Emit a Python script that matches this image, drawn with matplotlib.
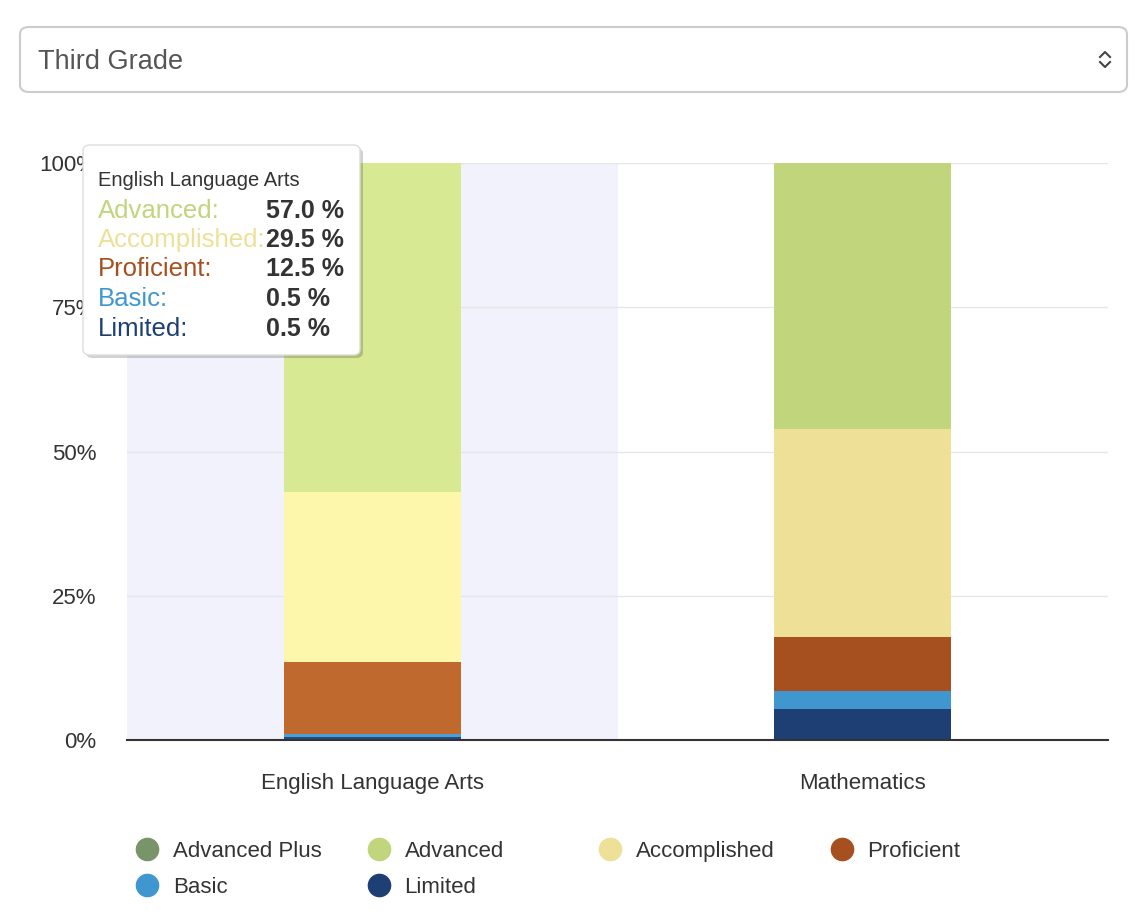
import matplotlib
matplotlib.use("Agg")
import matplotlib.pyplot as plt
from matplotlib.patches import FancyBboxPatch
from matplotlib.lines import Line2D

plt.rcParams['font.family'] = ['Liberation Sans', 'DejaVu Sans']

subjects = ["English Language Arts", "Mathematics"]
levels = ["Limited", "Basic", "Proficient", "Accomplished", "Advanced"]
ela = [0.5, 0.5, 12.5, 29.5, 57.0]
math = [5.4, 3.1, 9.4, 36.0, 46.1]
legend_order = ["Advanced Plus", "Advanced", "Accomplished", "Proficient", "Basic", "Limited"]
yticks = [0, 25, 50, 75, 100]
ytick_labels = ["0%", "25%", "50%", "75%", "100%"]

colors = {"Advanced Plus": "#7a9469", "Advanced": "#c0d57c", "Accomplished": "#eee097",
          "Proficient": "#a65020", "Basic": "#4097d0", "Limited": "#1e3f73"}
hover = {"Advanced": "#d7e993", "Accomplished": "#fdf7ab", "Proficient": "#c0692f",
         "Basic": "#4a9fd6", "Limited": "#244a82"}

W, H = 1145, 914
fig = plt.figure(figsize=(W / 100, H / 100), dpi=100)

def fx(px):
    return px / W

def fy(py):
    return 1 - py / H

# dropdown
fig.patches.append(FancyBboxPatch((fx(20), fy(92)), fx(1127) - fx(20), fy(27) - fy(92),
                                  boxstyle="round,pad=0,rounding_size=0.008",
                                  transform=fig.transFigure, fc="white", ec="#cccccc", lw=1.5))
fig.text(fx(38), fy(59), "Third Grade", fontsize=19.5, color="#555555", va="center_baseline")
fig.add_artist(Line2D([fx(1100), fx(1105), fx(1110)], [fy(57), fy(52), fy(57)],
                      color="#444444", lw=1.5, transform=fig.transFigure))
fig.add_artist(Line2D([fx(1100), fx(1105), fx(1110)], [fy(62), fy(67), fy(62)],
                      color="#444444", lw=1.5, transform=fig.transFigure))

# main axes
ax = fig.add_axes([fx(127), fy(740), fx(1108) - fx(127), fy(163) - fy(740)])
ax.axvspan(-0.5, 0.5, color="#f2f2fc", zorder=0, lw=0)
x = range(len(subjects))
bottoms = [0, 0]
for i, lev in enumerate(levels):
    vals = [ela[i], math[i]]
    cols = [hover[lev], colors[lev]]
    ax.bar(x, vals, bottom=bottoms, width=0.36, color=cols, zorder=3, lw=0)
    bottoms = [b + v for b, v in zip(bottoms, vals)]

ax.set_xlim(-0.5, 1.5)
ax.set_ylim(0, 100)
ax.set_yticks(yticks)
ax.set_yticklabels(ytick_labels)
ax.set_xticks(list(x))
ax.set_xticklabels(subjects)
ax.grid(axis="y", color="#e6e6e6", lw=1, zorder=1)
for s in ["top", "right", "left"]:
    ax.spines[s].set_visible(False)
ax.spines["bottom"].set_color("#333333")
ax.spines["bottom"].set_linewidth(1.5)
ax.spines["bottom"].set_zorder(4)
ax.tick_params(axis="both", length=0, labelsize=16, colors="#333333")
ax.tick_params(axis="y", pad=22)
ax.tick_params(axis="x", pad=24)

# tooltip
fig.patches.append(FancyBboxPatch((fx(86), fy(358)), fx(363) - fx(86), fy(148) - fy(358),
                                  boxstyle="round,pad=0,rounding_size=0.006",
                                  transform=fig.transFigure, fc="#000000", ec="none",
                                  alpha=0.18, zorder=9))
fig.patches.append(FancyBboxPatch((fx(83), fy(355)), fx(360) - fx(83), fy(145) - fy(355),
                                  boxstyle="round,pad=0,rounding_size=0.006",
                                  transform=fig.transFigure, fc="white", ec="#dddddd",
                                  lw=1, zorder=10))
fig.text(fx(98), fy(178), "English Language Arts", fontsize=14.5, color="#333333",
         va="center_baseline", zorder=11)
tip_levels = levels[::-1]
tip_vals = ela[::-1]
for k, (lev, v) in enumerate(zip(tip_levels, tip_vals)):
    yy = fy(208 + k * 29.5)
    fig.text(fx(98), yy, lev + ":", fontsize=18.5, color=colors[lev],
             va="center_baseline", zorder=11)
    fig.text(fx(266), yy, f"{v:.1f} %", fontsize=18, color="#333333", weight="bold",
             va="center_baseline", zorder=11)

# legend
for k, lev in enumerate(legend_order):
    col, row = k % 4, k // 4
    cx = 147 + col * 231.5
    cy = 849 + row * 36
    fig.add_artist(Line2D([fx(cx)], [fy(cy)], marker="o", ms=16, color=colors[lev],
                          lw=0, transform=fig.transFigure))
    fig.text(fx(cx + 26), fy(cy), lev, fontsize=16, color="#333333", va="center_baseline")

fig.savefig("out.png", dpi=100)
